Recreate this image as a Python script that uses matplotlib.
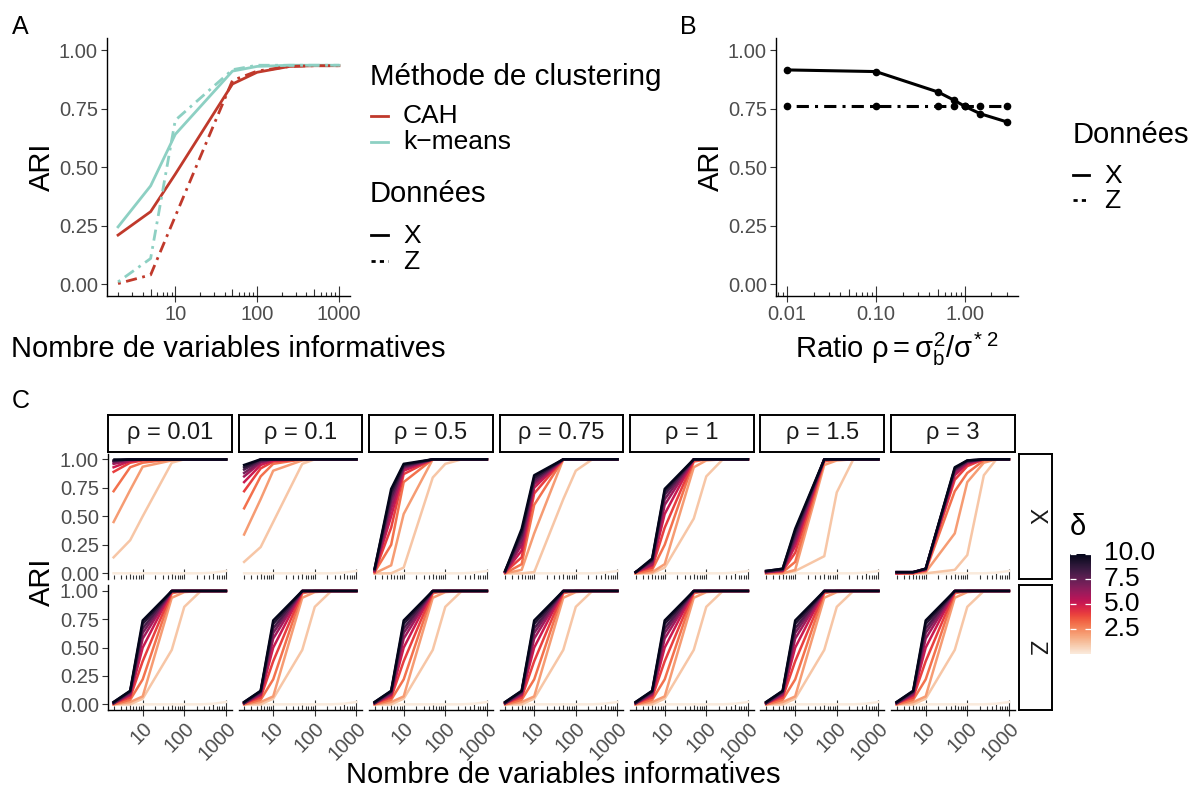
import numpy as np
import matplotlib

matplotlib.use("Agg")
import matplotlib.pyplot as plt
import seaborn as sns
from matplotlib.colorbar import ColorbarBase
from matplotlib.colors import Normalize
from matplotlib.lines import Line2D
from matplotlib.ticker import NullLocator

plt.rcParams["font.family"] = ["Liberation Sans", "DejaVu Sans"]
plt.rcParams["mathtext.fontset"] = "custom"
plt.rcParams["mathtext.rm"] = "Liberation Sans"
plt.rcParams["mathtext.it"] = "Liberation Sans"
plt.rcParams["mathtext.bf"] = "Liberation Sans:bold"

W, H = 1190, 789

# ---- données ----
n_vars = [2, 5, 10, 50, 100, 250, 500, 1000]

# panneau A
ari_cah_x = [0.21, 0.31, 0.47, 0.855, 0.905, 0.93, 0.933, 0.933]
ari_cah_z = [0.003, 0.04, 0.29, 0.87, 0.91, 0.93, 0.933, 0.933]
ari_km_x = [0.245, 0.42, 0.64, 0.91, 0.93, 0.935, 0.935, 0.935]
ari_km_z = [0.01, 0.11, 0.70, 0.916, 0.935, 0.935, 0.935, 0.935]

# panneau B
rho_b = [0.01, 0.1, 0.5, 0.75, 1, 1.5, 3]
ari_b_x = [0.915, 0.908, 0.821, 0.787, 0.76, 0.728, 0.693]
ari_b_z = [0.76, 0.76, 0.76, 0.76, 0.76, 0.76, 0.76]

# panneau C
rho_labels = ["0.01", "0.1", "0.5", "0.75", "1", "1.5", "3"]
deltas = [0, 1, 2, 3, 4, 5, 6, 7, 8, 9, 10]
cbar_ticks = [2.5, 5.0, 7.5, 10.0]

ari_x_rho001 = [
    [0.00, 0.00, 0.00, 0.00, 0.00, 0.00, 0.005, 0.02],
    [0.14, 0.29, 0.50, 0.97, 1.00, 1.00, 1.00, 1.00],
    [0.45, 0.73, 0.935, 0.99, 1.00, 1.00, 1.00, 1.00],
    [0.72, 0.93, 0.97, 1.00, 1.00, 1.00, 1.00, 1.00],
    [0.89, 0.97, 0.99, 1.00, 1.00, 1.00, 1.00, 1.00],
    [0.93, 0.985, 1.00, 1.00, 1.00, 1.00, 1.00, 1.00],
    [0.96, 0.99, 1.00, 1.00, 1.00, 1.00, 1.00, 1.00],
    [0.975, 1.00, 1.00, 1.00, 1.00, 1.00, 1.00, 1.00],
    [0.985, 1.00, 1.00, 1.00, 1.00, 1.00, 1.00, 1.00],
    [0.99, 1.00, 1.00, 1.00, 1.00, 1.00, 1.00, 1.00],
    [1.00, 1.00, 1.00, 1.00, 1.00, 1.00, 1.00, 1.00],
]
ari_x_rho01 = [
    [0.00, 0.00, 0.00, 0.00, 0.00, 0.00, 0.005, 0.02],
    [0.10, 0.23, 0.45, 0.96, 1.00, 1.00, 1.00, 1.00],
    [0.34, 0.65, 0.90, 0.99, 1.00, 1.00, 1.00, 1.00],
    [0.57, 0.85, 0.96, 1.00, 1.00, 1.00, 1.00, 1.00],
    [0.72, 0.92, 0.98, 1.00, 1.00, 1.00, 1.00, 1.00],
    [0.80, 0.95, 0.99, 1.00, 1.00, 1.00, 1.00, 1.00],
    [0.85, 0.97, 1.00, 1.00, 1.00, 1.00, 1.00, 1.00],
    [0.88, 0.98, 1.00, 1.00, 1.00, 1.00, 1.00, 1.00],
    [0.91, 0.99, 1.00, 1.00, 1.00, 1.00, 1.00, 1.00],
    [0.93, 1.00, 1.00, 1.00, 1.00, 1.00, 1.00, 1.00],
    [0.95, 1.00, 1.00, 1.00, 1.00, 1.00, 1.00, 1.00],
]
ari_x_rho05 = [
    [0.00, 0.00, 0.00, 0.00, 0.00, 0.00, 0.005, 0.02],
    [0.00, 0.00, 0.05, 0.84, 0.96, 1.00, 1.00, 1.00],
    [0.00, 0.07, 0.52, 1.00, 1.00, 1.00, 1.00, 1.00],
    [0.01, 0.25, 0.80, 1.00, 1.00, 1.00, 1.00, 1.00],
    [0.01, 0.40, 0.87, 1.00, 1.00, 1.00, 1.00, 1.00],
    [0.02, 0.50, 0.90, 1.00, 1.00, 1.00, 1.00, 1.00],
    [0.02, 0.57, 0.92, 1.00, 1.00, 1.00, 1.00, 1.00],
    [0.03, 0.63, 0.93, 1.00, 1.00, 1.00, 1.00, 1.00],
    [0.03, 0.67, 0.94, 1.00, 1.00, 1.00, 1.00, 1.00],
    [0.04, 0.71, 0.95, 1.00, 1.00, 1.00, 1.00, 1.00],
    [0.04, 0.74, 0.96, 1.00, 1.00, 1.00, 1.00, 1.00],
]
ari_x_rho075 = [
    [0.00, 0.00, 0.00, 0.00, 0.00, 0.00, 0.005, 0.02],
    [0.00, 0.00, 0.01, 0.65, 0.90, 1.00, 1.00, 1.00],
    [0.00, 0.03, 0.35, 1.00, 1.00, 1.00, 1.00, 1.00],
    [0.00, 0.08, 0.60, 1.00, 1.00, 1.00, 1.00, 1.00],
    [0.01, 0.14, 0.70, 1.00, 1.00, 1.00, 1.00, 1.00],
    [0.01, 0.20, 0.75, 1.00, 1.00, 1.00, 1.00, 1.00],
    [0.01, 0.25, 0.78, 1.00, 1.00, 1.00, 1.00, 1.00],
    [0.01, 0.29, 0.80, 1.00, 1.00, 1.00, 1.00, 1.00],
    [0.02, 0.33, 0.82, 1.00, 1.00, 1.00, 1.00, 1.00],
    [0.02, 0.36, 0.84, 1.00, 1.00, 1.00, 1.00, 1.00],
    [0.02, 0.39, 0.86, 1.00, 1.00, 1.00, 1.00, 1.00],
]
ari_x_rho1 = [
    [0.00, 0.00, 0.00, 0.00, 0.00, 0.00, 0.005, 0.02],
    [0.00, 0.00, 0.05, 0.48, 0.85, 1.00, 1.00, 1.00],
    [0.00, 0.01, 0.08, 0.93, 0.99, 1.00, 1.00, 1.00],
    [0.00, 0.03, 0.25, 0.98, 1.00, 1.00, 1.00, 1.00],
    [0.01, 0.05, 0.40, 0.99, 1.00, 1.00, 1.00, 1.00],
    [0.01, 0.07, 0.52, 1.00, 1.00, 1.00, 1.00, 1.00],
    [0.01, 0.08, 0.60, 1.00, 1.00, 1.00, 1.00, 1.00],
    [0.01, 0.10, 0.65, 1.00, 1.00, 1.00, 1.00, 1.00],
    [0.01, 0.11, 0.69, 1.00, 1.00, 1.00, 1.00, 1.00],
    [0.01, 0.12, 0.72, 1.00, 1.00, 1.00, 1.00, 1.00],
    [0.01, 0.13, 0.74, 1.00, 1.00, 1.00, 1.00, 1.00],
]
ari_x_rho15 = [
    [0.00, 0.00, 0.00, 0.00, 0.00, 0.00, 0.005, 0.02],
    [0.00, 0.00, 0.02, 0.15, 0.71, 1.00, 1.00, 1.00],
    [0.00, 0.00, 0.03, 0.95, 0.99, 1.00, 1.00, 1.00],
    [0.00, 0.01, 0.10, 0.98, 1.00, 1.00, 1.00, 1.00],
    [0.01, 0.02, 0.18, 0.99, 1.00, 1.00, 1.00, 1.00],
    [0.01, 0.02, 0.24, 1.00, 1.00, 1.00, 1.00, 1.00],
    [0.01, 0.03, 0.28, 1.00, 1.00, 1.00, 1.00, 1.00],
    [0.01, 0.03, 0.31, 1.00, 1.00, 1.00, 1.00, 1.00],
    [0.02, 0.03, 0.34, 1.00, 1.00, 1.00, 1.00, 1.00],
    [0.02, 0.04, 0.37, 1.00, 1.00, 1.00, 1.00, 1.00],
    [0.02, 0.04, 0.39, 1.00, 1.00, 1.00, 1.00, 1.00],
]
ari_x_rho3 = [
    [0.00, 0.00, 0.00, 0.00, 0.00, 0.00, 0.005, 0.02],
    [0.00, 0.00, 0.00, 0.03, 0.16, 0.86, 1.00, 1.00],
    [0.00, 0.00, 0.01, 0.35, 0.80, 0.97, 1.00, 1.00],
    [0.00, 0.00, 0.02, 0.72, 0.88, 0.99, 1.00, 1.00],
    [0.00, 0.00, 0.03, 0.82, 0.94, 1.00, 1.00, 1.00],
    [0.00, 0.01, 0.03, 0.86, 0.96, 1.00, 1.00, 1.00],
    [0.01, 0.01, 0.03, 0.88, 0.97, 1.00, 1.00, 1.00],
    [0.01, 0.01, 0.04, 0.90, 0.98, 1.00, 1.00, 1.00],
    [0.01, 0.01, 0.04, 0.91, 0.98, 1.00, 1.00, 1.00],
    [0.01, 0.01, 0.04, 0.92, 0.99, 1.00, 1.00, 1.00],
    [0.01, 0.01, 0.04, 0.93, 0.99, 1.00, 1.00, 1.00],
]
# la ligne Z est identique pour toutes les valeurs de rho
ari_z = [
    [0.00, 0.00, 0.00, 0.00, 0.00, 0.00, 0.005, 0.02],
    [0.00, 0.00, 0.05, 0.48, 0.86, 1.00, 1.00, 1.00],
    [0.00, 0.02, 0.07, 0.94, 0.99, 1.00, 1.00, 1.00],
    [0.00, 0.04, 0.22, 0.98, 1.00, 1.00, 1.00, 1.00],
    [0.01, 0.06, 0.38, 0.99, 1.00, 1.00, 1.00, 1.00],
    [0.01, 0.08, 0.50, 1.00, 1.00, 1.00, 1.00, 1.00],
    [0.01, 0.09, 0.58, 1.00, 1.00, 1.00, 1.00, 1.00],
    [0.01, 0.10, 0.63, 1.00, 1.00, 1.00, 1.00, 1.00],
    [0.01, 0.11, 0.67, 1.00, 1.00, 1.00, 1.00, 1.00],
    [0.02, 0.115, 0.71, 1.00, 1.00, 1.00, 1.00, 1.00],
    [0.02, 0.12, 0.74, 1.00, 1.00, 1.00, 1.00, 1.00],
]
ari_x_rows = [ari_x_rho001, ari_x_rho01, ari_x_rho05, ari_x_rho075,
              ari_x_rho1, ari_x_rho15, ari_x_rho3]

# ---- style ----
RED = "#C0392B"
TEAL = "#8DD0C3"
TICK_GREY = "#4D4D4D"
DOTDASH = (0, (1, 2, 4, 2))
cmap = sns.color_palette("rocket_r", as_cmap=True)
norm = Normalize(0, 10)

fig = plt.figure(figsize=(W / 100, H / 100), dpi=100)


def frac(l, t, r, b):
    return [l / W, 1 - b / H, (r - l) / W, (b - t) / H]


def ftext(x, y, s, **kw):
    fig.text(x / W, 1 - y / H, s, **kw)


def key_line(x0, x1, y, **kw):
    fig.add_artist(Line2D([x0 / W, x1 / W], [1 - y / H, 1 - y / H],
                          transform=fig.transFigure, **kw))


def log_xlim(lo, hi):
    a, b = np.log10(lo), np.log10(hi)
    e = 0.05 * (b - a)
    return 10 ** (a - e), 10 ** (b + e)


def logticks(ax, lo, hi, h_px):
    trans = ax.get_xaxis_transform()
    for d in range(int(np.floor(np.log10(lo))), int(np.ceil(np.log10(hi))) + 1):
        for k in range(1, 10):
            v = k * 10.0 ** d
            if lo <= v <= hi:
                ln = 10 if k == 1 else (7 if k == 5 else 4)
                ax.plot([v, v], [0, ln / h_px], transform=trans, color="#333333",
                        lw=0.8, clip_on=False, solid_capstyle="butt")


def base_axes(ax, xlim, h_px, show_left=True, show_bottom=True):
    ax.set_xscale("log")
    ax.set_xlim(*xlim)
    ax.set_ylim(-0.05, 1.05)
    ax.xaxis.set_minor_locator(NullLocator())
    for s in ("top", "right"):
        ax.spines[s].set_visible(False)
    ax.spines["left"].set_visible(show_left)
    ax.spines["bottom"].set_visible(show_bottom)
    for s in ("left", "bottom"):
        ax.spines[s].set_linewidth(1.0)
    ax.set_yticks([0, 0.25, 0.5, 0.75, 1.0])
    ax.set_yticklabels(["0.00", "0.25", "0.50", "0.75", "1.00"])
    ax.tick_params(axis="both", direction="out", length=4, width=0.8, color="#333333",
                   labelsize=14.5, labelcolor=TICK_GREY, pad=2.5)
    ax.patch.set_alpha(0)
    logticks(ax, *xlim, h_px)


# ---- panneau A ----
axA = fig.add_axes(frac(107, 38.3, 350, 296))
xlA = log_xlim(2, 1000)
base_axes(axA, xlA, 296 - 38.3)
axA.plot(n_vars, ari_cah_x, color=RED, lw=2)
axA.plot(n_vars, ari_km_x, color=TEAL, lw=2)
axA.plot(n_vars, ari_cah_z, color=RED, lw=2, linestyle=DOTDASH)
axA.plot(n_vars, ari_km_z, color=TEAL, lw=2, linestyle=DOTDASH)
axA.set_xticks([10, 100, 1000])
axA.set_xticklabels(["10", "100", "1000"])

ftext(42, 167, "ARI", rotation=90, ha="center", va="center", fontsize=21)
ftext(228, 357, "Nombre de variables informatives", ha="center", va="baseline", fontsize=21)

ftext(370, 77, "Méthode de clustering", ha="left", va="center", fontsize=21.3)
key_line(371, 388, 116, color=RED, lw=2)
ftext(403, 116, "CAH", ha="left", va="center", fontsize=19)
key_line(371, 388, 142, color=TEAL, lw=2)
ftext(403, 142, "k\u2212means", ha="left", va="center", fontsize=19)
ftext(370, 194, "Données", ha="left", va="center", fontsize=21)
key_line(371, 388, 235, color="black", lw=2)
ftext(403, 236, "X", ha="left", va="center", fontsize=19)
key_line(371, 388, 261, color="black", lw=2, linestyle=(0, (1.5, 1.5, 1.5, 1.5)))
ftext(403, 262, "Z", ha="left", va="center", fontsize=19)

# ---- panneau B ----
axB = fig.add_axes(frac(776, 38.3, 1018, 296))
xlB = log_xlim(0.01, 3)
base_axes(axB, xlB, 296 - 38.3)
axB.plot(rho_b, ari_b_x, color="black", lw=2.2, marker="o", ms=4.5)
axB.plot(rho_b, ari_b_z, color="black", lw=2.2, marker="o", ms=4.5, linestyle=DOTDASH)
axB.set_xticks([0.01, 0.1, 1])
axB.set_xticklabels(["0.01", "0.10", "1.00"])

ftext(711, 167, "ARI", rotation=90, ha="center", va="center", fontsize=21)
ftext(897, 358, r"Ratio $\rho = \sigma_b^2/\sigma^{*\ 2}$", ha="center", va="baseline",
      fontsize=21)

ftext(1073, 135, "Données", ha="left", va="center", fontsize=21)
key_line(1073, 1089, 175, color="black", lw=2)
ftext(1104, 176, "X", ha="left", va="center", fontsize=19)
key_line(1073, 1089, 200, color="black", lw=2, linestyle=(0, (1.5, 1.5, 1.5, 1.5)))
ftext(1104, 201, "Z", ha="left", va="center", fontsize=19)

# ---- panneau C ----
xlC = log_xlim(2, 1000)
rows = [("X", 453.6, 579.0), ("Z", 585.3, 710.0)]
for j, lab in enumerate(rho_labels):
    left = 108 + j * 130.5
    right = left + 123.5
    # bandeau du haut
    sax = fig.add_axes(frac(left, 415, right, 452))
    sax.set_xticks([])
    sax.set_yticks([])
    for s in sax.spines.values():
        s.set_linewidth(1.4)
        s.set_color("black")
    sax.text(0.5, 0.5, "\u03c1 = " + lab, ha="center", va="center", fontsize=17,
             transform=sax.transAxes, color="#1A1A1A")
    for r, (rname, top, bot) in enumerate(rows):
        ax = fig.add_axes(frac(left, top, right, bot))
        base_axes(ax, xlC, bot - top, show_left=(j == 0), show_bottom=(r == 1))
        data = ari_x_rows[j] if r == 0 else ari_z
        for d, vals in zip(deltas, data):
            ax.plot(n_vars, vals, color=cmap(norm(d)), lw=1.8, solid_joinstyle="round")
        if j > 0:
            ax.tick_params(left=False, labelleft=False)
        if r == 0:
            ax.tick_params(bottom=False, labelbottom=False)
        else:
            ax.set_xticks([10, 100, 1000])
            ax.set_xticklabels(["10", "100", "1000"], rotation=45, ha="right",
                               va="top", rotation_mode="anchor")

for rname, top, bot in rows:
    sax = fig.add_axes(frac(1019, top, 1052, bot))
    sax.set_xticks([])
    sax.set_yticks([])
    for s in sax.spines.values():
        s.set_linewidth(1.4)
    sax.text(0.5, 0.5, rname, ha="center", va="center", fontsize=17, rotation=-90,
             transform=sax.transAxes, color="#1A1A1A")

ftext(42, 582, "ARI", rotation=90, ha="center", va="center", fontsize=21)
ftext(563, 783, "Nombre de variables informatives", ha="center", va="baseline", fontsize=21)

# barre de couleur delta
cb_top, cb_bot = 553.5, 654.0
cax = fig.add_axes(frac(1070, cb_top, 1091, cb_bot))
cb = ColorbarBase(cax, cmap=cmap, norm=norm, orientation="vertical")
cb.outline.set_visible(False)
cb.set_ticks(cbar_ticks)
cax.tick_params(direction="in", length=4, width=0.9, color="white", left=True, right=True,
                labelleft=False, labelright=False)
for t in cbar_ticks:
    ty = cb_bot - (cb_bot - cb_top) * norm(t)
    ftext(1104, ty, f"{t:.1f}", ha="left", va="center", fontsize=19)
ftext(1070, 527, "\u03b4", ha="left", va="center", fontsize=21)

# lettres des panneaux
ftext(12, 27, "A", ha="left", va="center", fontsize=18)
ftext(680, 27, "B", ha="left", va="center", fontsize=18)
ftext(12, 401, "C", ha="left", va="center", fontsize=18)

fig.savefig("out.png", dpi=100)
